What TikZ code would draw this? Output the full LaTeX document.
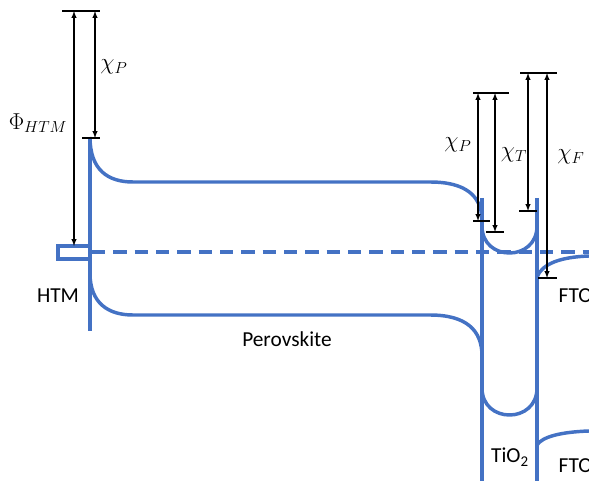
\documentclass[tikz,border=0pt]{standalone}
\usepackage{fontspec}
\setmainfont{Carlito}
\usepackage{xcolor}
\definecolor{bandblue}{HTML}{4472C4}

\begin{document}
\begin{tikzpicture}[x=0.75pt, y=-0.75pt,
    band/.style={draw=bandblue, line width=2.6pt},
    level/.style={draw=black, line width=0.8pt},
    gap/.style={<->, >=latex, line width=0.8pt},
    layer/.style={font=\fontsize{16}{19}\selectfont},
    sym/.style={font=\fontsize{17.5}{20}\selectfont}]
    \useasboundingbox (0,0) rectangle (589,481);

    % Fermi level — dashed, across everything
    \draw[band, dash pattern=on 10pt off 6pt] (92,252) -- (589,252);

    % HTM contact
    \draw[band] (58,246) rectangle (90,259);
    \draw[band] (90,137) -- (90,331);

    % Perovskite bands
    \draw[band] (90,137) .. controls (90,170) and (108,182) .. (133,182)
        -- (430,182) .. controls (466,182) and (481,196) .. (482,219);
    \draw[band] (90,273) .. controls (90,303) and (108,315) .. (133,315)
        -- (430,315) .. controls (466,315) and (482,330) .. (482,356);

    % TiO2 layer
    \draw[band] (482,198) -- (482,481);
    \draw[band] (537,198) -- (537,481);
    \draw[band] (482,226) .. controls (482,262) and (537,262) .. (537,226);
    \draw[band] (482,388) .. controls (482,424) and (537,424) .. (537,388);

    % FTO bands
    \draw[band] (537,277) .. controls (542,264) and (560,257) .. (589,256);
    \draw[band] (537,445) .. controls (542,437) and (560,432) .. (589,431);

    % Energy levels
    \coordinate (vacH) at (74,11);
    \coordinate (vacHp) at (95,11);
    \coordinate (cbH) at (95,138);
    \coordinate (wfH) at (74,246);
    \coordinate (vacP) at (478,93);
    \coordinate (vacPt) at (495,93);
    \coordinate (cbP) at (478,221);
    \coordinate (cbT) at (495,232);
    \coordinate (vacT) at (528,73);
    \coordinate (vacF) at (547,73);
    \coordinate (cbTt) at (528,211);
    \coordinate (cbF) at (547,278);

    \draw[level] (62,11) -- (100,11);
    \draw[level] (82,138) -- (100,138);
    \draw[level] (473,93) -- (509,93);
    \draw[level] (473,221) -- (490,221);
    \draw[level] (486,232) -- (504,232);
    \draw[level] (520,73) -- (557,73);
    \draw[level] (519,211) -- (537,211);
    \draw[level] (538,278) -- (557,278);

    % Gaps
    \draw[gap] (vacH) -- (wfH);
    \draw[gap] (vacHp) -- (cbH);
    \draw[gap] (vacP) -- (cbP);
    \draw[gap] (vacPt) -- (cbT);
    \draw[gap] (vacT) -- (cbTt);
    \draw[gap] (vacF) -- (cbF);

    % Labels
    \node[sym] (phiHTM) at (38,123) {$\Phi_{HTM}$};
    \node[sym] (chiPl) at (114,67) {$\chi_P$};
    \node[sym] (chiPr) at (458,145) {$\chi_P$};
    \node[sym] (chiT) at (514,155) {$\chi_T$};
    \node[sym] (chiF) at (571,157) {$\chi_F$};

    \node[layer] (htm) at (58,296) {HTM};
    \node[layer] (pero) at (287,339) {Perovskite};
    \node[layer] (tio) at (510,457) {TiO\textsubscript{2}};
    \node[layer, anchor=west] (ftoA) at (554,296) {FTO};
    \node[layer, anchor=west] (ftoB) at (554,466) {FTO};
\end{tikzpicture}
\end{document}
